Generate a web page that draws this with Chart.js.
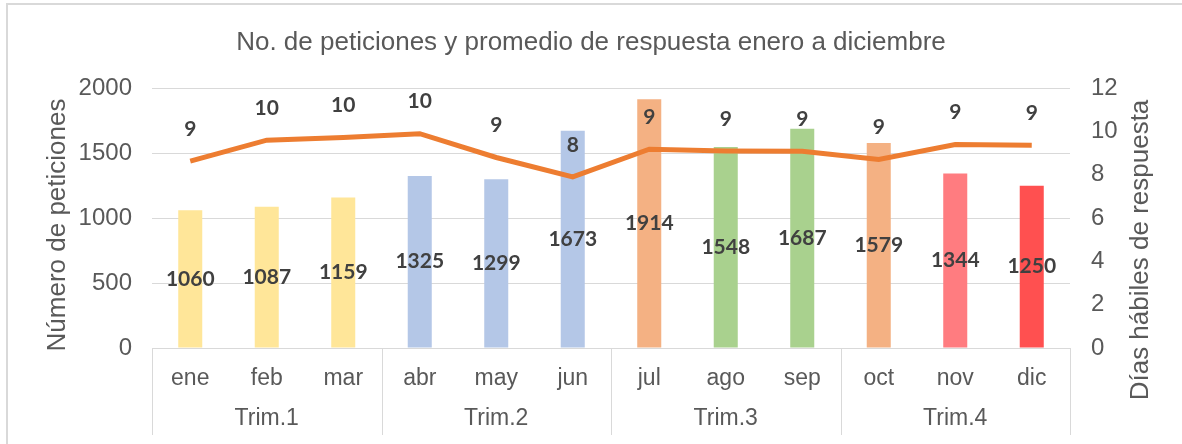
<!DOCTYPE html>
<html>
<head>
<meta charset="utf-8">
<script src="https://cdn.jsdelivr.net/npm/chart.js@4.4.0/dist/chart.umd.min.js"></script>
<style>
  html, body { margin: 0; padding: 0; background: #fff; }
  #wrap { width: 1182px; height: 444px; }
</style>
</head>
<body>
<div id="wrap"><canvas id="myChart" width="1182" height="444"></canvas></div>
<script>
// chart data
const months = ["ene", "feb", "mar", "abr", "may", "jun", "jul", "ago", "sep", "oct", "nov", "dic"];
const quarters = ["Trim.1", "Trim.2", "Trim.3", "Trim.4"];
const requests = [1060, 1087, 1159, 1325, 1299, 1673, 1914, 1548, 1687, 1579, 1344, 1250];
const responseDays = [8.63, 9.6, 9.72, 9.9, 8.8, 7.9, 9.18, 9.1, 9.09, 8.71, 9.4, 9.37];
const requestTicks = { min: 0, max: 2000, step: 500 };
const dayTicks = { min: 0, max: 12, step: 2 };

const chartTitle = "No. de peticiones y promedio de respuesta enero a diciembre";
const leftTitle = "Número de peticiones";
const rightTitle = "Días hábiles de respuesta";

// styles
const barColors = ["#FFE699", "#FFE699", "#FFE699", "#B4C7E7", "#B4C7E7", "#B4C7E7",
  "#F4B183", "#A9D18E", "#A9D18E", "#F4B183", "#FF7C80", "#FF5050"];
const lineColor = "#ED7D31";
const gridColor = "#D9D9D9";
const textColor = "#595959";
const labelColor = "#404040";
const sansFont = "'Liberation Sans', Arial, sans-serif";
const labelFont = "bold 21px Lato, 'Open Sans', sans-serif";

// white background plus the light outer frame
const framePlugin = {
  id: "frame",
  beforeDraw(chart) {
    const ctx = chart.ctx;
    ctx.save();
    ctx.fillStyle = "#fff";
    ctx.fillRect(0, 0, chart.width, chart.height);
    ctx.strokeStyle = gridColor;
    ctx.lineWidth = 2;
    ctx.beginPath();
    ctx.moveTo(7, chart.height);
    ctx.lineTo(7, 4);
    ctx.lineTo(chart.width, 4);
    ctx.stroke();
    ctx.restore();
  }
};

// second level of the category axis (quarters) with separators
const quarterPlugin = {
  id: "quarterAxis",
  afterDraw(chart) {
    const ctx = chart.ctx;
    const x = chart.scales.x;
    const perQuarter = months.length / quarters.length;
    const half = x.width / months.length / 2;
    ctx.save();
    ctx.strokeStyle = gridColor;
    ctx.lineWidth = 1;
    for (let q = 0; q <= quarters.length; q++) {
      let px;
      if (q < quarters.length) {
        px = x.getPixelForValue(q * perQuarter) - half;
      } else {
        px = x.getPixelForValue(months.length - 1) + half;
      }
      px = Math.round(px) + 0.5;
      ctx.beginPath();
      ctx.moveTo(px, x.top);
      ctx.lineTo(px, 435);
      ctx.stroke();
    }
    ctx.fillStyle = textColor;
    ctx.font = "23px " + sansFont;
    ctx.textAlign = "center";
    ctx.textBaseline = "middle";
    quarters.forEach((name, q) => {
      const a = x.getPixelForValue(q * perQuarter);
      const b = x.getPixelForValue(q * perQuarter + perQuarter - 1);
      ctx.fillText(name, (a + b) / 2, 419);
    });
    ctx.restore();
  }
};

// axis titles (right one reads bottom to top, like the left one)
function drawSideTitle(ctx, text, cx, cy) {
  ctx.save();
  ctx.fillStyle = textColor;
  ctx.font = "26px " + sansFont;
  ctx.textAlign = "center";
  ctx.textBaseline = "middle";
  ctx.translate(cx, cy);
  ctx.rotate(-Math.PI / 2);
  ctx.fillText(text, 0, 0);
  ctx.restore();
}

const titlePlugin = {
  id: "axisTitles",
  afterDraw(chart) {
    drawSideTitle(chart.ctx, leftTitle, 58, 225);
    drawSideTitle(chart.ctx, rightTitle, 1141, 250);
  }
};

// data labels: bar values centred in the bar, line values above the point
const valueLabelPlugin = {
  id: "valueLabels",
  afterDatasetsDraw(chart) {
    const ctx = chart.ctx;
    ctx.save();
    ctx.fillStyle = labelColor;
    ctx.font = labelFont;
    ctx.textAlign = "center";
    ctx.textBaseline = "middle";
    chart.getDatasetMeta(0).data.forEach((bar, i) => {
      ctx.fillText(String(requests[i]), bar.x, (bar.y + bar.base) / 2);
    });
    chart.getDatasetMeta(1).data.forEach((pt, i) => {
      ctx.fillText(String(Math.round(responseDays[i])), pt.x, pt.y - 32);
    });
    ctx.restore();
  }
};

function mainEvent() {
  const target = document.querySelector("#myChart");

  const config = {
    type: "bar",
    data: {
      labels: months,
      datasets: [
        {
          label: "Peticiones",
          data: requests,
          backgroundColor: barColors,
          yAxisID: "y",
          barPercentage: 0.314,
          categoryPercentage: 1,
          order: 2
        },
        {
          type: "line",
          label: "Días",
          data: responseDays,
          borderColor: lineColor,
          borderWidth: 5,
          pointRadius: 0,
          tension: 0,
          yAxisID: "y1",
          order: 1
        }
      ]
    },
    options: {
      responsive: false,
      animation: false,
      devicePixelRatio: 1,
      layout: { padding: 0 },
      plugins: {
        legend: { display: false },
        tooltip: { enabled: false },
        title: {
          display: true,
          text: chartTitle,
          color: textColor,
          font: { family: sansFont, size: 26, weight: "normal" },
          padding: { top: 27, bottom: 30 }
        }
      },
      scales: {
        x: {
          grid: { display: false, drawTicks: false },
          border: { display: true, color: gridColor },
          ticks: {
            color: textColor,
            font: { family: sansFont, size: 23 },
            padding: 17,
            maxRotation: 0,
            autoSkip: false
          },
          afterFit(scale) { scale.height = 96; }
        },
        y: {
          position: "left",
          min: requestTicks.min,
          max: requestTicks.max,
          grid: { color: gridColor, drawTicks: false },
          border: { display: false },
          ticks: {
            stepSize: requestTicks.step,
            color: textColor,
            font: { family: sansFont, size: 24 },
            padding: 20,
            callback: (v) => String(v)
          },
          afterFit(scale) { scale.width = 152; }
        },
        y1: {
          position: "right",
          min: dayTicks.min,
          max: dayTicks.max,
          grid: { display: false, drawTicks: false },
          border: { display: false },
          ticks: {
            stepSize: dayTicks.step,
            color: textColor,
            font: { family: sansFont, size: 24 },
            padding: 21,
            callback: (v) => String(v)
          },
          afterFit(scale) { scale.width = 112; }
        }
      }
    },
    plugins: [framePlugin, quarterPlugin, titlePlugin, valueLabelPlugin]
  };

  new Chart(target, config);
}

document.addEventListener("DOMContentLoaded", () => mainEvent());
</script>
</body>
</html>
